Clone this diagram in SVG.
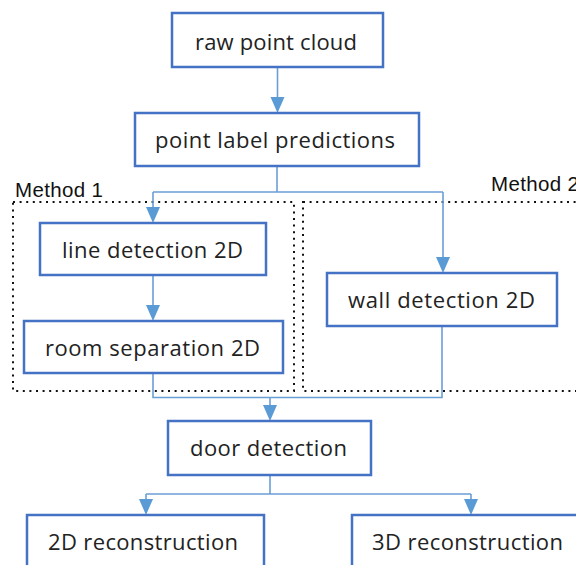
<svg xmlns="http://www.w3.org/2000/svg" width="576" height="565" viewBox="0 0 576 565">
<style>
.box{fill:#fff;stroke:#4472c4;stroke-width:2.5}
.lbl{font-family:"Open Sans","Noto Sans",sans-serif;font-size:22px;fill:#222;text-anchor:middle;dominant-baseline:central}
.grp{font-family:"Liberation Sans",Arial,sans-serif;font-size:20.5px;fill:#111}
.dot{fill:none;stroke:#111;stroke-width:2;stroke-dasharray:2 4.6}
.con{fill:none;stroke:#6a9fd6;stroke-width:1.6}
.ah{fill:#5b9bd5}
</style>
<g id="method-frames">
<rect class="dot" x="13" y="202" width="281" height="189"/>
<rect class="dot" x="303" y="202" width="290" height="189"/>
<text class="grp" x="15" y="197" textLength="88">Method 1</text>
<text class="grp" x="491" y="191" textLength="88">Method 2</text>
</g>
<g id="connectors">
<line class="con" x1="277.5" y1="67" x2="277.5" y2="97"/>
<path class="ah" d="M270.5 97 L284.5 97 L277.5 113 Z"/>
<path class="con" d="M277 166 V192 M153 192 H443 M153 192 V207 M443 192 V257"/>
<path class="ah" d="M146 207 L160 207 L153 223 Z"/>
<path class="ah" d="M436 257 L450 257 L443 273 Z"/>
<line class="con" x1="153" y1="275" x2="153" y2="305"/>
<path class="ah" d="M146 305 L160 305 L153 321 Z"/>
<path class="con" d="M153 373 V397.5 H442 V326 M270 397.5 V405"/>
<path class="ah" d="M263 405 L277 405 L270 421 Z"/>
<path class="con" d="M270 475 V494 M146 494 H471 M146 494 V499 M471 494 V499"/>
<path class="ah" d="M139 499 L153 499 L146 515 Z"/>
<path class="ah" d="M464 499 L478 499 L471 515 Z"/>
</g>
<g id="raw-point-cloud">
<rect class="box" x="172" y="13" width="211" height="54"/>
<text class="lbl" x="276" y="41" textLength="162">raw point cloud</text>
</g>
<g id="point-label-predictions">
<rect class="box" x="135" y="113" width="284" height="53"/>
<text class="lbl" x="275" y="139" textLength="240">point label predictions</text>
</g>
<g id="line-detection-2d">
<rect class="box" x="40" y="223" width="226" height="52"/>
<text class="lbl" x="152.5" y="249" textLength="181">line detection 2D</text>
</g>
<g id="room-separation-2d">
<rect class="box" x="24" y="321" width="259" height="52"/>
<text class="lbl" x="152.5" y="347" textLength="215">room separation 2D</text>
</g>
<g id="wall-detection-2d">
<rect class="box" x="327" y="273" width="230" height="53"/>
<text class="lbl" x="441.5" y="299" textLength="187">wall detection 2D</text>
</g>
<g id="door-detection">
<rect class="box" x="168" y="421" width="203" height="54"/>
<text class="lbl" x="268.5" y="447" textLength="157">door detection</text>
</g>
<g id="reconstruction-2d">
<rect class="box" x="27" y="515" width="237" height="70"/>
<text class="lbl" x="143" y="541" textLength="190">2D reconstruction</text>
</g>
<g id="reconstruction-3d">
<rect class="box" x="352" y="515" width="240" height="70"/>
<text class="lbl" x="467.5" y="541" textLength="191">3D reconstruction</text>
</g>
</svg>
